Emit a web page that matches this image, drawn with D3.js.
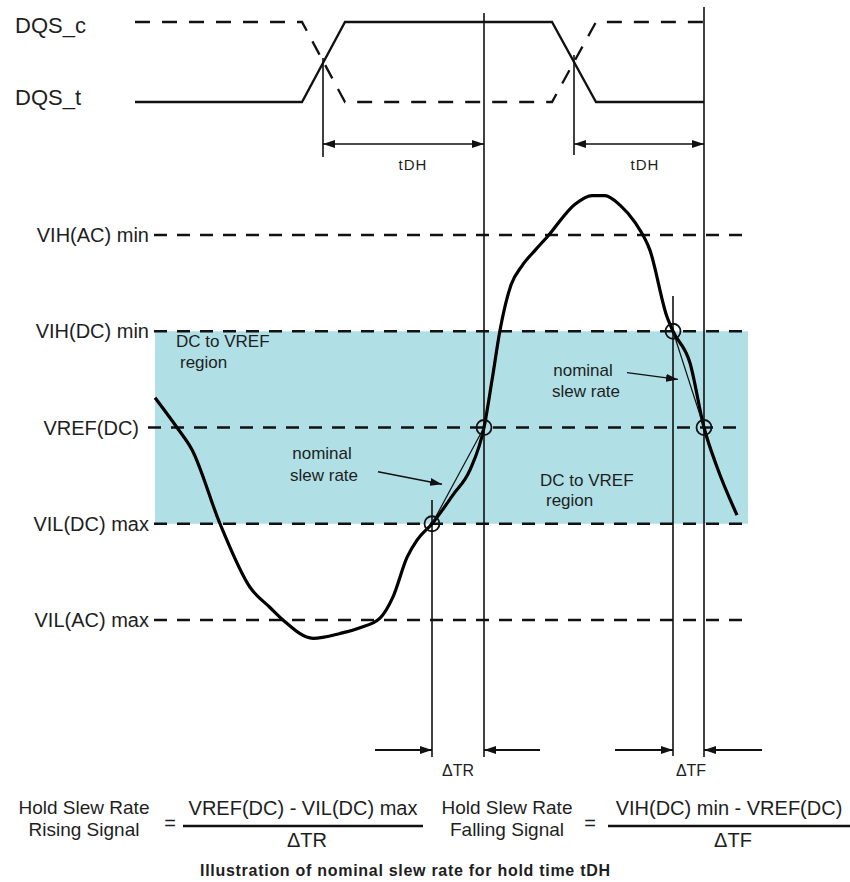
<!DOCTYPE html>
<html>
<head>
<meta charset="utf-8">
<script src="https://cdnjs.cloudflare.com/ajax/libs/d3/7.8.5/d3.min.js"></script>
<style>
  body { margin: 0; background: #fff; }
  svg text { font-family: "Liberation Sans", Arial, sans-serif; fill: #1e1e1e; }
</style>
</head>
<body>
<div id="chart"></div>
<script>
var width = 850, height = 882;

// niveaux de tension (VREF = 0, unités relatives)
var levelNames = ["VIH(AC) min", "VIH(DC) min", "VREF(DC)", "VIL(DC) max", "VIL(AC) max"];
var levelValues = [2, 1, 0, -1, -2];

// horloge DQS (temps en unités arbitraires)
var dqsNames = ["DQS_c", "DQS_t"];
var dqsTimes = [0, 167, 210, 417, 461, 569];
var dqsT = [0, 0, 1, 1, 0, 0];
var dqsC = [1, 1, 0, 0, 1, 1];
var dqsCross = [188, 439];

// signal d'entrée
var sigTimes = [20, 42, 57, 85, 115, 135, 148, 178, 205, 225, 245, 258, 272, 282, 297, 318, 335, 349,
                357, 365, 376, 387, 400, 413, 440, 457, 470, 485, 500, 515, 532, 538, 555, 569, 582, 602];
var sigVolts = [0.31, 0.0, -0.23, -1.0, -1.66, -1.87, -2.0, -2.19, -2.14, -2.08, -1.98, -1.76, -1.35, -1.17, -1.0, -0.70, -0.44, 0.0,
                0.49, 1.01, 1.48, 1.68, 1.84, 1.99, 2.32, 2.41, 2.41, 2.31, 2.13, 1.84, 1.15, 1.0, 0.67, 0.0, -0.41, -0.91];

// points de mesure (montée : VIL(DC)->VREF, descente : VIH(DC)->VREF)
var riseTimes = [297, 349];
var riseVolts = [-1, 0];
var fallTimes = [538, 569];
var fallVolts = [1, 0];

var tdhLabel = "tDH";
var deltaLabels = ["\u0394TR", "\u0394TF"];

var svg = d3.select("#chart")
            .append("svg")
            .attr("width", width)
            .attr("height", height);

var x = d3.scaleLinear().domain([0, 612]).range([135, 747]);
var y = d3.scaleLinear().domain([-2, 2]).range([620, 235]);
var yDqs = d3.scaleLinear().domain([0, 1]).range([102, 22]);

// flèches
var defs = svg.append("defs");
defs.append("marker")
    .attr("id", "arrow")
    .attr("viewBox", "0 0 12 8")
    .attr("refX", 12)
    .attr("refY", 4)
    .attr("markerWidth", 12)
    .attr("markerHeight", 8)
    .attr("markerUnits", "userSpaceOnUse")
    .attr("orient", "auto-start-reverse")
    .append("path")
    .attr("d", "M0,0 L12,4 L0,8 z")
    .attr("fill", "#111");

// zone DC to VREF
svg.append("rect")
   .attr("x", x(20))
   .attr("y", y(1))
   .attr("width", x(613) - x(20))
   .attr("height", y(-1) - y(1))
   .attr("fill", "#b0e0e6");

// lignes de niveaux
svg.selectAll(".level")
   .data(levelValues)
   .enter().append("line")
   .attr("class", "level")
   .attr("x1", function(d) { return d === 0 ? x(13) : x(19); })
   .attr("x2", x(611))
   .attr("y1", function(d) { return y(d); })
   .attr("y2", function(d) { return y(d); })
   .attr("stroke", "#111")
   .attr("stroke-width", 2.3)
   .attr("stroke-dasharray", "13,10");

svg.selectAll(".level-label")
   .data(levelNames)
   .enter().append("text")
   .attr("class", "level-label")
   .attr("x", function(d, i) { return levelValues[i] === 0 ? 139 : 149; })
   .attr("y", function(d, i) { return y(levelValues[i]); })
   .attr("dy", "0.36em")
   .attr("text-anchor", "end")
   .style("font-size", "20px")
   .text(function(d) { return d; });

// lignes verticales
var vlines = [
  {t: riseTimes[1], y1: 13, y2: 757},
  {t: fallTimes[1], y1: 7, y2: 757},
  {t: riseTimes[0], y1: 500, y2: 757},
  {t: fallTimes[0], y1: 296, y2: 756},
  {t: dqsCross[0], y1: 58, y2: 157},
  {t: dqsCross[1], y1: 55, y2: 155}
];
svg.selectAll(".vline")
   .data(vlines)
   .enter().append("line")
   .attr("class", "vline")
   .attr("x1", function(d) { return x(d.t); })
   .attr("x2", function(d) { return x(d.t); })
   .attr("y1", function(d) { return d.y1; })
   .attr("y2", function(d) { return d.y2; })
   .attr("stroke", "#111")
   .attr("stroke-width", 1.6);

// DQS
var dqsLine = d3.line()
    .x(function(d) { return x(d[0]); })
    .y(function(d) { return yDqs(d[1]); });

svg.append("path")
   .datum(d3.zip(dqsTimes, dqsC))
   .attr("d", dqsLine)
   .attr("fill", "none")
   .attr("stroke", "#111")
   .attr("stroke-width", 2.3)
   .attr("stroke-dasharray", "15,12");

svg.append("path")
   .datum(d3.zip(dqsTimes, dqsT))
   .attr("d", dqsLine)
   .attr("fill", "none")
   .attr("stroke", "#111")
   .attr("stroke-width", 2.3);

svg.selectAll(".dqs-label")
   .data(dqsNames)
   .enter().append("text")
   .attr("class", "dqs-label")
   .attr("x", 15)
   .attr("y", function(d, i) { return i === 0 ? 25 : 97; })
   .attr("dy", "0.36em")
   .style("font-size", "22px")
   .text(function(d) { return d; });

// tDH
var tdh = [[dqsCross[0], riseTimes[1]], [dqsCross[1], fallTimes[1]]];
svg.selectAll(".tdh")
   .data(tdh)
   .enter().append("line")
   .attr("class", "tdh")
   .attr("x1", function(d) { return x(d[0]); })
   .attr("x2", function(d) { return x(d[1]); })
   .attr("y1", 144)
   .attr("y2", 144)
   .attr("stroke", "#111")
   .attr("stroke-width", 1.6)
   .attr("marker-start", "url(#arrow)")
   .attr("marker-end", "url(#arrow)");

svg.selectAll(".tdh-label")
   .data(tdh)
   .enter().append("text")
   .attr("class", "tdh-label")
   .attr("x", function(d, i) { return i === 0 ? 413 : 645; })
   .attr("y", 165)
   .attr("dy", "0.36em")
   .attr("text-anchor", "middle")
   .style("font-size", "15px")
   .style("letter-spacing", "1px")
   .text(tdhLabel);

// signal
var sigLine = d3.line()
    .x(function(d) { return x(d[0]); })
    .y(function(d) { return y(d[1]); })
    .curve(d3.curveMonotoneX);

svg.append("path")
   .datum(d3.zip(sigTimes, sigVolts))
   .attr("d", sigLine)
   .attr("fill", "none")
   .attr("stroke", "#000")
   .attr("stroke-width", 3.2)
   .attr("stroke-linejoin", "round");

// pente nominale
var slopes = [d3.zip(riseTimes, riseVolts), d3.zip(fallTimes, fallVolts)];
svg.selectAll(".slope")
   .data(slopes)
   .enter().append("path")
   .attr("class", "slope")
   .attr("d", d3.line().x(function(d) { return x(d[0]); }).y(function(d) { return y(d[1]); }))
   .attr("fill", "none")
   .attr("stroke", "#111")
   .attr("stroke-width", 1.2);

svg.selectAll(".dot")
   .data(d3.zip(riseTimes.concat(fallTimes), riseVolts.concat(fallVolts)))
   .enter().append("circle")
   .attr("class", "dot")
   .attr("cx", function(d) { return x(d[0]); })
   .attr("cy", function(d) { return y(d[1]); })
   .attr("r", 7.5)
   .attr("fill", "none")
   .attr("stroke", "#111")
   .attr("stroke-width", 1.8);

// annotations zone
var regionText = [
  {x: 176, y: 341, t: "DC to VREF"}, {x: 180, y: 362, t: "region"},
  {x: 540, y: 480, t: "DC to VREF"}, {x: 546, y: 500, t: "region"}
];
svg.selectAll(".region-label")
   .data(regionText)
   .enter().append("text")
   .attr("class", "region-label")
   .attr("x", function(d) { return d.x; })
   .attr("y", function(d) { return d.y; })
   .attr("dy", "0.36em")
   .style("font-size", "17px")
   .text(function(d) { return d.t; });

var nominalText = [
  {x: 322, y: 453, t: "nominal"}, {x: 324, y: 475, t: "slew rate"},
  {x: 583, y: 370, t: "nominal"}, {x: 586, y: 391, t: "slew rate"}
];
svg.selectAll(".nominal-label")
   .data(nominalText)
   .enter().append("text")
   .attr("class", "nominal-label")
   .attr("x", function(d) { return d.x; })
   .attr("y", function(d) { return d.y; })
   .attr("dy", "0.36em")
   .attr("text-anchor", "middle")
   .style("font-size", "17px")
   .text(function(d) { return d.t; });

var pointers = [
  [[243, -0.46], [307, -0.59]],
  [[492, 0.57], [543, 0.50]]
];
svg.selectAll(".pointer")
   .data(pointers)
   .enter().append("line")
   .attr("class", "pointer")
   .attr("x1", function(d) { return x(d[0][0]); })
   .attr("y1", function(d) { return y(d[0][1]); })
   .attr("x2", function(d) { return x(d[1][0]); })
   .attr("y2", function(d) { return y(d[1][1]); })
   .attr("stroke", "#111")
   .attr("stroke-width", 1.4)
   .attr("marker-end", "url(#arrow)");

// delta T flèches en bas
var deltaArrows = [[240, riseTimes[0]], [405, riseTimes[1]], [480, fallTimes[0]], [627, fallTimes[1]]];
svg.selectAll(".delta")
   .data(deltaArrows)
   .enter().append("line")
   .attr("class", "delta")
   .attr("x1", function(d) { return x(d[0]); })
   .attr("x2", function(d) { return x(d[1]); })
   .attr("y1", 750)
   .attr("y2", 750)
   .attr("stroke", "#111")
   .attr("stroke-width", 1.8)
   .attr("marker-end", "url(#arrow)");

svg.selectAll(".delta-label")
   .data(deltaLabels)
   .enter().append("text")
   .attr("class", "delta-label")
   .attr("x", function(d, i) { return i === 0 ? 458 : 691; })
   .attr("y", 770)
   .attr("dy", "0.36em")
   .attr("text-anchor", "middle")
   .style("font-size", "16px")
   .text(function(d) { return d; });

// formules
var formulas = [
  {cx: 84, lines: ["Hold Slew Rate", "Rising Signal"], eq: 170, f1: 183, f2: 423, num: "VREF(DC) - VIL(DC) max", den: deltaLabels[0]},
  {cx: 507, lines: ["Hold Slew Rate", "Falling Signal"], eq: 590, f1: 608, f2: 850, num: "VIH(DC) min - VREF(DC)", den: deltaLabels[1]}
];
formulas.forEach(function(f) {
  var g = svg.append("g");
  g.append("text").attr("x", f.cx).attr("y", 807).attr("dy", "0.36em")
   .attr("text-anchor", "middle").style("font-size", "19px").text(f.lines[0]);
  g.append("text").attr("x", f.cx).attr("y", 829).attr("dy", "0.36em")
   .attr("text-anchor", "middle").style("font-size", "19px").text(f.lines[1]);
  g.append("text").attr("x", f.eq).attr("y", 823).attr("dy", "0.36em")
   .attr("text-anchor", "middle").style("font-size", "20px").text("=");
  g.append("line").attr("x1", f.f1).attr("x2", f.f2).attr("y1", 826).attr("y2", 826)
   .attr("stroke", "#111").attr("stroke-width", 2.5);
  g.append("text").attr("x", (f.f1 + f.f2) / 2).attr("y", 808).attr("dy", "0.36em")
   .attr("text-anchor", "middle").style("font-size", "20px").text(f.num);
  g.append("text").attr("x", (f.f1 + f.f2) / 2 + 4).attr("y", 840).attr("dy", "0.36em")
   .attr("text-anchor", "middle").style("font-size", "20px").text(f.den);
});

svg.append("text")
   .attr("x", 200)
   .attr("y", 870)
   .attr("dy", "0.36em")
   .attr("textLength", 410)
   .attr("lengthAdjust", "spacing")
   .style("font-size", "16px")
   .style("font-weight", "bold")
   .text("Illustration of nominal slew rate for hold time tDH");
</script>
</body>
</html>
